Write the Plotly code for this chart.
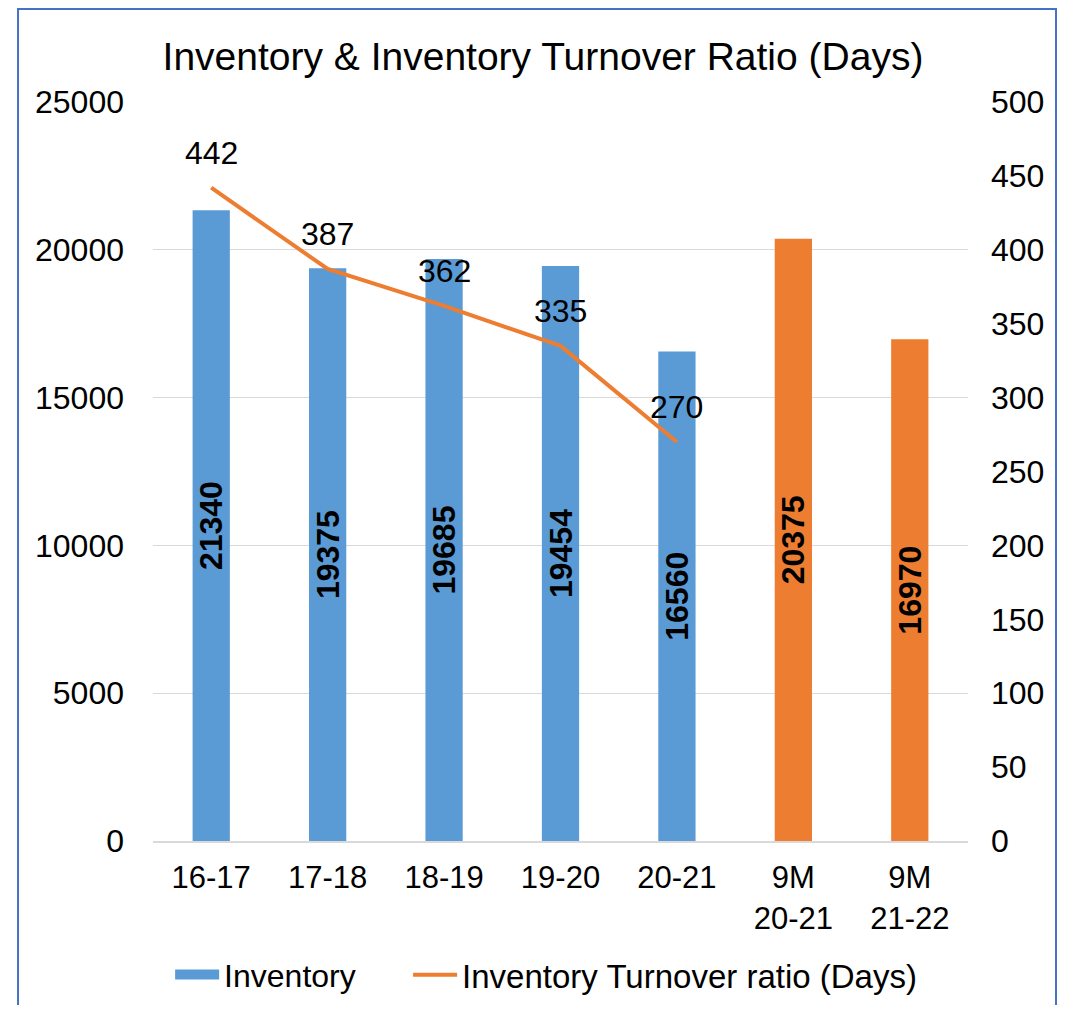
import plotly.graph_objects as go

categories = ["16-17", "17-18", "18-19", "19-20", "20-21", "9M<br>20-21", "9M<br>21-22"]
inventory = [21340, 19375, 19685, 19454, 16560, 20375, 16970]
bar_colors = ["#5B9BD5"] * 5 + ["#ED7D31"] * 2
turnover_cats = categories[:5]
turnover_days = [442, 387, 362, 335, 270]

FONT = "Liberation Sans, Arial, sans-serif"
BLUE = "#5B9BD5"
ORANGE = "#ED7D31"

fig = go.Figure()

fig.add_trace(go.Bar(
    x=categories, y=inventory, name="Inventory", showlegend=False,
    marker=dict(color=bar_colors, line=dict(width=0)),
    text=[f"<b>{v}</b>" for v in inventory],
    textposition="inside", textangle=-90, insidetextanchor="middle",
    constraintext="none",
    insidetextfont=dict(size=32, color="black", family=FONT),
))

# legend-only swatch for the bars (wide rectangle like the original)
fig.add_trace(go.Scatter(
    x=[None], y=[None], name="Inventory", mode="lines",
    line=dict(color=BLUE, width=17), legend="legend",
))

fig.add_trace(go.Scatter(
    x=turnover_cats, y=turnover_days, name="Inventory Turnover ratio (Days)",
    mode="lines", line=dict(color=ORANGE, width=4), yaxis="y2", legend="legend2",
))

# value labels above the line points
for c, v in zip(turnover_cats, turnover_days):
    fig.add_annotation(x=c, y=v, yref="y2", text=str(v), showarrow=False,
                       yshift=35, font=dict(size=32, color="black", family=FONT))

# chart border
fig.add_shape(type="rect", xref="paper", yref="paper",
              x0=-0.1656, x1=1.108, y0=-0.3, y1=1.1258,
              line=dict(color="#4472C4", width=2), layer="below")

leg_common = dict(orientation="h", y=-0.181, yanchor="middle", xanchor="left",
                  itemwidth=44, bgcolor="rgba(0,0,0,0)")

fig.update_layout(
    width=1049, height=997,
    margin=dict(l=145, r=89, t=94, b=164, autoexpand=False),
    paper_bgcolor="white", plot_bgcolor="white",
    font=dict(family=FONT, size=31, color="black"),
    title=dict(text="Inventory & Inventory Turnover Ratio (Days)",
               x=0.51, xanchor="center", y=0.952, yanchor="middle",
               font=dict(size=39, color="black", family=FONT)),
    bargap=0.68,
    showlegend=True,
    legend=dict(x=0.021, font=dict(size=32), **leg_common),
    legend2=dict(x=0.313, font=dict(size=33), **leg_common),
    xaxis=dict(showline=True, linecolor="#d9d9d9", linewidth=2, ticks="",
               tickfont=dict(size=31), ticklabelstandoff=8, automargin=False),
    yaxis=dict(range=[0, 25000], dtick=5000, tickformat="d", showgrid=True,
               gridcolor="#d9d9d9", gridwidth=1, zeroline=False, showline=False,
               ticks="", tickfont=dict(size=32), ticklabelstandoff=28, automargin=False),
    yaxis2=dict(range=[0, 500], dtick=50, overlaying="y", side="right",
                showgrid=False, zeroline=False, showline=False, ticks="",
                tickfont=dict(size=32), ticklabelstandoff=22, automargin=False),
)

fig.write_html("out.html")
